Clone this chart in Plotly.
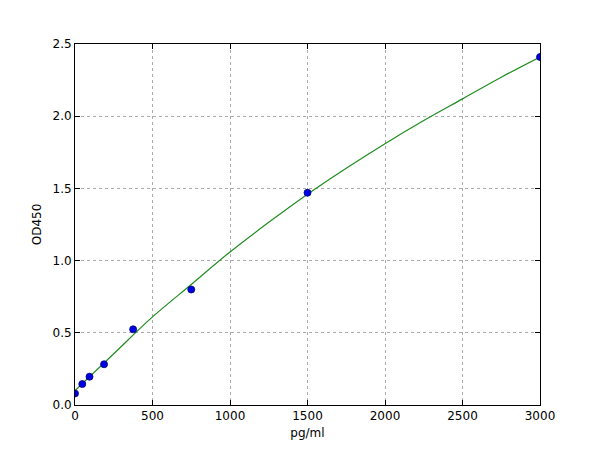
import plotly.graph_objects as go

# standards (pg/ml) and measured OD450
conc = [0, 46.875, 93.75, 187.5, 375, 750, 1500, 3000]
od = [0.08, 0.145, 0.196, 0.282, 0.524, 0.80, 1.47, 2.41]

# fitted curve
fit_x = [0, 250, 500, 750, 1000, 1250, 1500, 1750, 2000, 2250, 2500, 2750, 3000]
fit_y = [0.10, 0.355, 0.61, 0.835, 1.06, 1.265, 1.46, 1.64, 1.81, 1.97, 2.12, 2.27, 2.41]

x_ticks = [0, 500, 1000, 1500, 2000, 2500, 3000]
y_ticks = [0.0, 0.5, 1.0, 1.5, 2.0, 2.5]


def main():
    fig = go.Figure()
    fig.add_trace(go.Scatter(x=fit_x, y=fit_y, mode='lines', line_shape='spline',
                             line=dict(color='rgb(30,140,30)', width=1.2), showlegend=False))
    fig.add_trace(go.Scatter(x=conc, y=od, mode='markers',
                             marker=dict(color='rgb(0,0,230)', size=7,
                                         line=dict(color='rgb(0,0,110)', width=0.8)),
                             showlegend=False))

    axis = dict(showline=True, linecolor='black', linewidth=1, mirror='ticks',
                ticks='inside', ticklen=5, tickcolor='black',
                showgrid=True, gridcolor='#aaa', gridwidth=1, griddash='dot',
                zeroline=False, tickfont=dict(size=12, color='black'))

    fig.update_xaxes(range=[0, 3000], tickvals=x_ticks,
                     ticktext=[str(v) for v in x_ticks],
                     title=dict(text='pg/ml', font=dict(size=12, color='black'), standoff=6),
                     **axis)
    fig.update_yaxes(range=[0, 2.5], tickvals=y_ticks,
                     ticktext=['%.1f' % v for v in y_ticks],
                     title=dict(text='OD450', font=dict(size=12, color='black'), standoff=8),
                     **axis)

    # the page body adds 8px, so margins are shifted to land the axes where the reference has them
    fig.update_layout(width=600, height=450, plot_bgcolor='white', paper_bgcolor='white',
                      font=dict(family='DejaVu Sans', color='black'),
                      margin=dict(l=67, r=68, t=36, b=53))
    fig.write_html('out.html')


if __name__ == '__main__':
    main()
